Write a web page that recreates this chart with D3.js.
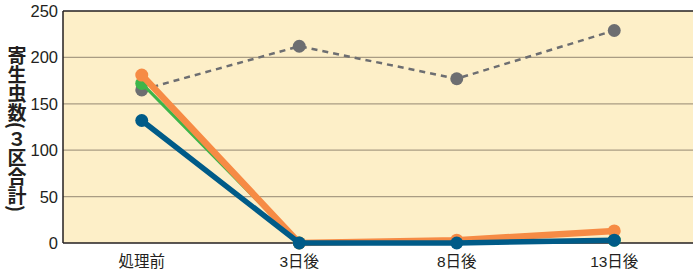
<!DOCTYPE html>
<html>
<head>
<meta charset="utf-8">
<script src="https://cdn.jsdelivr.net/npm/d3@7"></script>
<style>
  body { margin: 0; background: #fff; }
  text { font-family: "Liberation Sans", "Noto Sans CJK JP", sans-serif; fill: #231f20; }
</style>
</head>
<body>
<div id="viz"></div>
<script>
var width = 693;
var height = 272;

// data
var categories = ["処理前", "3日後", "8日後", "13日後"];
var grayValues = [165, 212, 177, 229];
var greenValues = [172, 0, 1, 3];
var orangeValues = [181, 0, 3, 13];
var blueValues = [132, 0, 0, 3];
var yTicks = [0, 50, 100, 150, 200, 250];

var margin = {top: 11, left: 63, bottom: 29};

var svg = d3.select("#viz").append("svg")
   .attr("width", width)
   .attr("height", height);

var x = d3.scalePoint()
   .domain(categories)
   .range([margin.left, width])
   .padding(0.5);

var y = d3.scaleLinear()
   .domain([0, 250])
   .range([height - margin.bottom, margin.top]);

// plot background
svg.append("rect")
   .attr("x", margin.left)
   .attr("y", margin.top)
   .attr("width", width - margin.left)
   .attr("height", y(0) - margin.top)
   .attr("fill", "#fdefc8");

// grid
svg.selectAll(".grid")
   .data(yTicks.filter(function(d) { return d > 0 && d < 250; }))
   .enter().append("line")
   .attr("x1", margin.left)
   .attr("x2", width)
   .attr("y1", function(d) { return y(d); })
   .attr("y2", function(d) { return y(d); })
   .attr("stroke", "#a99c83")
   .attr("stroke-width", 1.3);

// frame
svg.append("line")
   .attr("x1", margin.left).attr("x2", width)
   .attr("y1", y(250)).attr("y2", y(250))
   .attr("stroke", "#231f20").attr("stroke-width", 1.5);
svg.append("line")
   .attr("x1", margin.left).attr("x2", width)
   .attr("y1", y(0)).attr("y2", y(0))
   .attr("stroke", "#231f20").attr("stroke-width", 1.5);
svg.append("line")
   .attr("x1", margin.left).attr("x2", margin.left)
   .attr("y1", y(250)).attr("y2", y(0))
   .attr("stroke", "#231f20").attr("stroke-width", 1.5);

// y tick labels
svg.selectAll(".ytick")
   .data(yTicks)
   .enter().append("text")
   .attr("x", margin.left - 5)
   .attr("y", function(d) { return y(d); })
   .attr("dy", "0.36em")
   .attr("text-anchor", "end")
   .style("font-size", "16.5px")
   .text(function(d) { return d; });

// x labels
svg.selectAll(".xtick")
   .data(categories)
   .enter().append("text")
   .attr("x", function(d) { return x(d); })
   .attr("y", 267)
   .attr("text-anchor", "middle")
   .style("font-size", "15.5px")
   .text(function(d) { return d; });

// y axis title, vertical
svg.append("text")
   .attr("x", 17)
   .attr("y", 129)
   .attr("text-anchor", "middle")
   .style("writing-mode", "vertical-rl")
   .style("text-orientation", "mixed")
   .style("font-family", "'Noto Sans CJK JP', sans-serif")
   .style("font-size", "19px")
   .style("font-weight", "bold")
   .text("寄生虫数(３区合計)");

var line = d3.line()
   .x(function(d, i) { return x(categories[i]); })
   .y(function(d) { return y(d); });

function drawSeries(values, color, lw, dash) {
   svg.append("path")
      .datum(values)
      .attr("d", line)
      .attr("fill", "none")
      .attr("stroke", color)
      .attr("stroke-width", lw)
      .attr("stroke-dasharray", dash || null);
   svg.selectAll(null)
      .data(values)
      .enter().append("circle")
      .attr("cx", function(d, i) { return x(categories[i]); })
      .attr("cy", function(d) { return y(d); })
      .attr("r", 6.5)
      .attr("fill", color);
}

drawSeries(grayValues, "#6d6e71", 2.5, "6,5");
drawSeries(greenValues, "#3db54a", 3, null);
drawSeries(orangeValues, "#f68b45", 6.5, null);
drawSeries(blueValues, "#005b88", 5.5, null);
</script>
</body>
</html>
